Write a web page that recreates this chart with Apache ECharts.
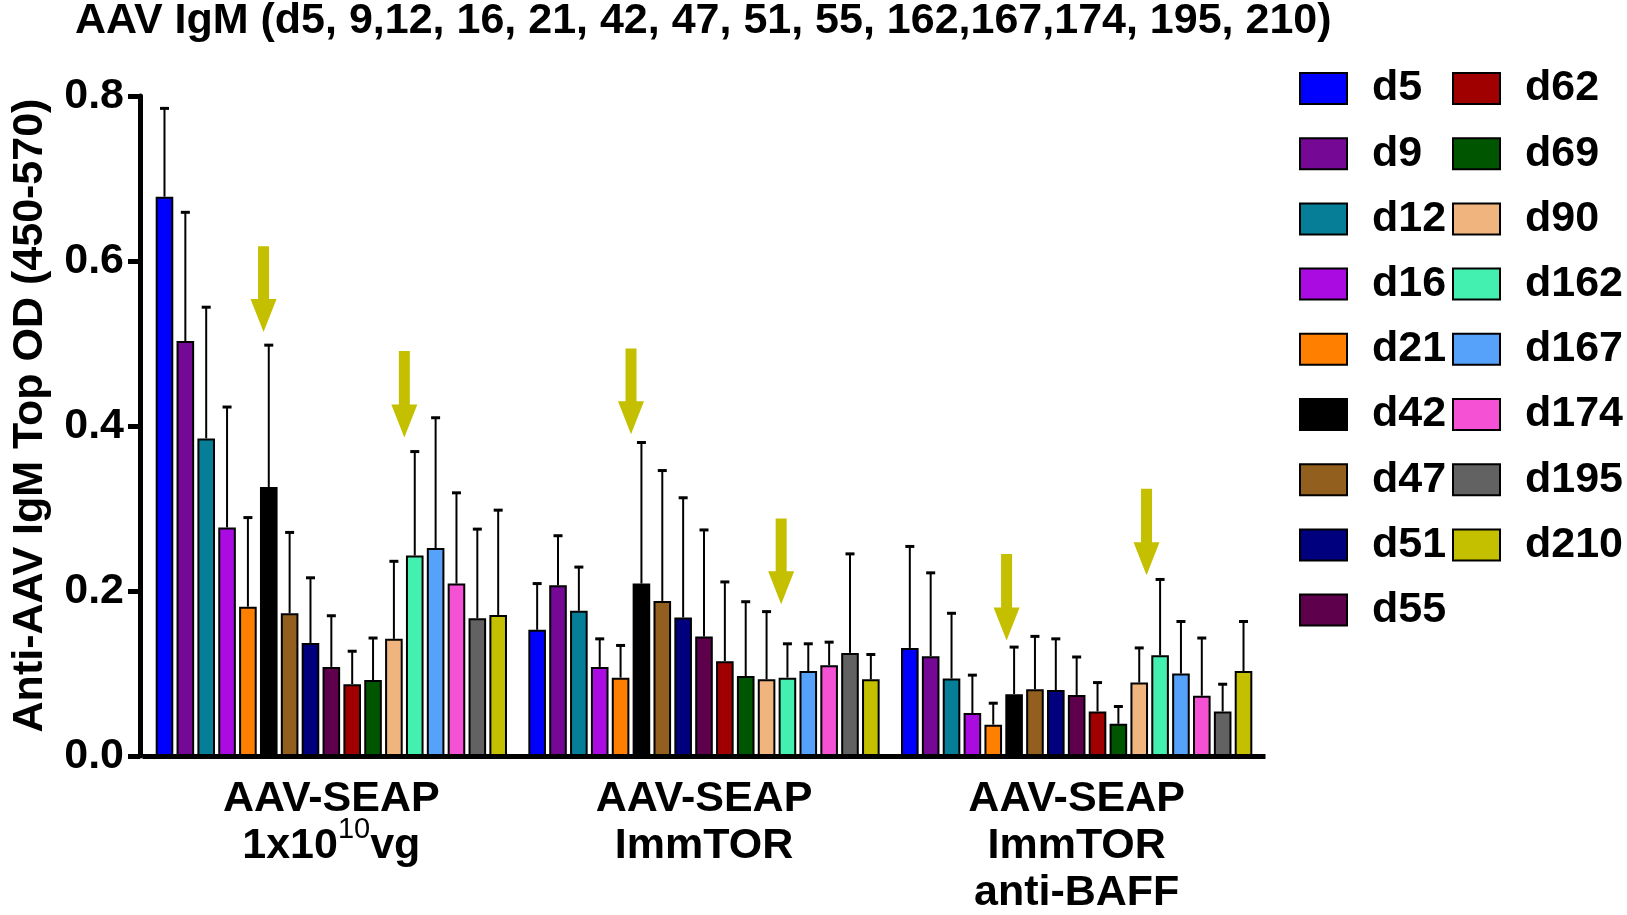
<!DOCTYPE html>
<html>
<head>
<meta charset="utf-8">
<title>AAV IgM</title>
<script src="https://cdn.jsdelivr.net/npm/echarts@6/dist/echarts.min.js"></script>
<style>
html, body { margin: 0; padding: 0; background: #fff; }
#chart-igm { width: 1627px; height: 915px; }
</style>
</head>
<body>
<div id="chart-igm"></div>
<script>
// 组别
var groupLabels = [
	'{b|AAV-SEAP}\n{b|1x10}{s|10}{b|vg}',
	'{b|AAV-SEAP}\n{b|ImmTOR}',
	'{b|AAV-SEAP}\n{b|ImmTOR}\n{b|anti-BAFF}'
];
var groups = [ 'g1', 'g2', 'g3' ];

// 天数
var dayNames = [ 'd5', 'd9', 'd12', 'd16', 'd21', 'd42', 'd47', 'd51', 'd55',
		'd62', 'd69', 'd90', 'd162', 'd167', 'd174', 'd195', 'd210' ];
var dayColors = [ '#0000FF', '#750894', '#077E98', '#A90BE0', '#FF8000',
		'#000000', '#935F1F', '#00007E', '#5E004B', '#A00000', '#005600',
		'#F0B57E', '#44F0B0', '#56A1FA', '#F451D4', '#626262', '#C4C000' ];

// 均值 (每组一个)
var d5 = [ 0.678, 0.153, 0.131 ];
var d9 = [ 0.503, 0.207, 0.121 ];
var d12 = [ 0.385, 0.176, 0.094 ];
var d16 = [ 0.277, 0.108, 0.052 ];
var d21 = [ 0.181, 0.095, 0.038 ];
var d42 = [ 0.326, 0.209, 0.075 ];
var d47 = [ 0.173, 0.188, 0.081 ];
var d51 = [ 0.137, 0.168, 0.080 ];
var d55 = [ 0.108, 0.145, 0.074 ];
var d62 = [ 0.087, 0.115, 0.054 ];
var d69 = [ 0.092, 0.097, 0.039 ];
var d90 = [ 0.142, 0.093, 0.089 ];
var d162 = [ 0.243, 0.095, 0.122 ];
var d167 = [ 0.252, 0.103, 0.100 ];
var d174 = [ 0.209, 0.110, 0.073 ];
var d195 = [ 0.167, 0.125, 0.054 ];
var d210 = [ 0.171, 0.093, 0.103 ];
var means = [ d5, d9, d12, d16, d21, d42, d47, d51, d55, d62, d69, d90, d162,
		d167, d174, d195, d210 ];

// 误差 (SD, 只画上半)
var sd5 = [ 0.107, 0.056, 0.123 ];
var sd9 = [ 0.156, 0.060, 0.101 ];
var sd12 = [ 0.159, 0.053, 0.079 ];
var sd16 = [ 0.146, 0.034, 0.046 ];
var sd21 = [ 0.108, 0.039, 0.026 ];
var sd42 = [ 0.172, 0.171, 0.057 ];
var sd47 = [ 0.098, 0.158, 0.064 ];
var sd51 = [ 0.079, 0.145, 0.062 ];
var sd55 = [ 0.062, 0.129, 0.046 ];
var sd62 = [ 0.040, 0.096, 0.035 ];
var sd69 = [ 0.051, 0.090, 0.021 ];
var sd90 = [ 0.094, 0.082, 0.042 ];
var sd162 = [ 0.126, 0.041, 0.092 ];
var sd167 = [ 0.158, 0.033, 0.063 ];
var sd174 = [ 0.110, 0.028, 0.070 ];
var sd195 = [ 0.108, 0.120, 0.033 ];
var sd210 = [ 0.127, 0.030, 0.060 ];
var sds = [ sd5, sd9, sd12, sd16, sd21, sd42, sd47, sd51, sd55, sd62, sd69,
		sd90, sd162, sd167, sd174, sd195, sd210 ];

// 黄色箭头: 组, 柱位置, 顶端, 箭尖
var arrowGroup = [ 0, 0, 1, 1, 2, 2 ];
var arrowSlot = [ 4.75, 11.5, 4.5, 11.7, 4.64, 11.35 ];
var arrowTop = [ 0.618, 0.491, 0.494, 0.288, 0.245, 0.324 ];
var arrowTip = [ 0.514, 0.386, 0.390, 0.184, 0.140, 0.219 ];

var yTicks = [ 0, 0.8, 0.2 ]; // min, max, interval

var FONT = 'Liberation Sans, Arial, sans-serif';
var barW = 17.6;
var barGapPct = 0.185;
var step = barW * (1 + barGapPct);
var nDays = dayNames.length;

var series = [];
for ( var i = 0; i < nDays; i++) {
	series.push({
		name : dayNames[i],
		type : 'bar',
		barWidth : barW,
		barGap : (barGapPct * 100) + '%',
		itemStyle : {
			color : dayColors[i],
			borderColor : '#000',
			borderWidth : 2
		},
		z : 2,
		data : means[i]
	});
}

// 误差线
var errData = [];
for ( var i = 0; i < nDays; i++) {
	for ( var g = 0; g < groups.length; g++) {
		errData.push([ g, means[i][g] + sds[i][g], means[i][g], i ]);
	}
}
series.push({
	name : 'sd',
	type : 'custom',
	z : 3,
	encode : { x : 0, y : 1 },
	renderItem : function(params, api) {
		var g = api.value(0), top = api.value(1), mean = api.value(2), s = api.value(3);
		var p1 = api.coord([ g, mean ]);
		var p2 = api.coord([ g, top ]);
		var x = p1[0] + (s - (nDays - 1) / 2) * step;
		return {
			type : 'group',
			children : [ {
				type : 'line',
				shape : { x1 : x, y1 : p1[1], x2 : x, y2 : p2[1] },
				style : { stroke : '#000', lineWidth : 2 }
			}, {
				type : 'line',
				shape : { x1 : x - 4.5, y1 : p2[1], x2 : x + 4.5, y2 : p2[1] },
				style : { stroke : '#000', lineWidth : 3 }
			} ]
		};
	},
	data : errData
});

// 箭头
var arrowData = [];
for ( var k = 0; k < arrowGroup.length; k++) {
	arrowData.push([ arrowGroup[k], arrowTop[k], arrowTip[k], arrowSlot[k] ]);
}
series.push({
	name : 'arrow',
	type : 'custom',
	z : 4,
	encode : { x : 0, y : 1 },
	renderItem : function(params, api) {
		var g = api.value(0), s = api.value(3);
		var pt = api.coord([ g, api.value(1) ]);
		var pe = api.coord([ g, api.value(2) ]);
		var x = pt[0] + (s - (nDays - 1) / 2) * step;
		var yt = pt[1], ye = pe[1], hb = ye - 33;
		return {
			type : 'polygon',
			shape : {
				points : [ [ x - 5.5, yt ], [ x + 5.5, yt ], [ x + 5.5, hb ],
						[ x + 13, hb ], [ x, ye ], [ x - 13, hb ], [ x - 5.5, hb ] ]
			},
			style : { fill : '#C4C000' }
		};
	},
	data : arrowData
});

var legendText = {
	fontFamily : FONT,
	fontWeight : 'bold',
	fontSize : 43,
	lineHeight : 41,
	color : '#000',
	padding : [ 0, 0, 0, 20 ]
};

var option = {
	animation : false,
	title : {
		text : 'AAV IgM (d5, 9,12, 16, 21, 42, 47, 51, 55, 162,167,174, 195, 210)',
		left : 70,
		top : -5,
		textStyle : {
			fontFamily : FONT,
			fontWeight : 'bold',
			fontSize : 43,
			color : '#000'
		}
	},
	legend : [ {
		orient : 'vertical',
		left : 1294,
		top : 62,
		icon : 'rect',
		itemWidth : 47,
		itemHeight : 31,
		itemGap : 22.2,
		selectedMode : false,
		textStyle : legendText,
		data : dayNames.slice(0, 9)
	}, {
		orient : 'vertical',
		left : 1447,
		top : 62,
		icon : 'rect',
		itemWidth : 47,
		itemHeight : 31,
		itemGap : 22.2,
		selectedMode : false,
		textStyle : legendText,
		data : dayNames.slice(9)
	} ],
	grid : {
		left : 145,
		width : 1118,
		top : 96,
		bottom : 158
	},
	xAxis : {
		type : 'category',
		data : groups,
		axisLine : { lineStyle : { color : '#000', width : 5, cap : 'square' } },
		axisTick : {
			alignWithLabel : true,
			length : 12,
			lineStyle : { color : '#000', width : 5 }
		},
		axisLabel : {
			margin : 20,
			formatter : function(v, idx) {
				return groupLabels[idx];
			},
			rich : {
				b : {
					fontFamily : FONT,
					fontWeight : 'bold',
					fontSize : 43,
					lineHeight : 47,
					color : '#000'
				},
				s : {
					fontFamily : FONT,
					fontSize : 29,
					lineHeight : 10,
					verticalAlign : 'bottom',
					padding : [ 0, 0, 26, 0 ],
					color : '#000'
				}
			}
		}
	},
	yAxis : {
		type : 'value',
		offset : 5,
		min : yTicks[0],
		max : yTicks[1],
		interval : yTicks[2],
		name : 'Anti-AAV IgM Top OD (450-570)',
		nameLocation : 'middle',
		nameRotate : 90,
		nameGap : 88,
		nameTextStyle : {
			fontFamily : FONT,
			fontWeight : 'bold',
			fontSize : 43,
			color : '#000',
			padding : [ 0, 0, 0, 21 ]
		},
		splitLine : { show : false },
		axisLine : { show : true, lineStyle : { color : '#000', width : 5 } },
		axisTick : { show : true, length : 12, lineStyle : { color : '#000', width : 5 } },
		axisLabel : {
			margin : 16,
			fontFamily : FONT,
			fontWeight : 'bold',
			fontSize : 43,
			color : '#000',
			formatter : function(v) {
				return v.toFixed(1);
			}
		}
	},
	series : series
};

var myChart = echarts.init(document.getElementById('chart-igm'));
window.onresize = myChart.resize;
myChart.setOption(option);
</script>
</body>
</html>
